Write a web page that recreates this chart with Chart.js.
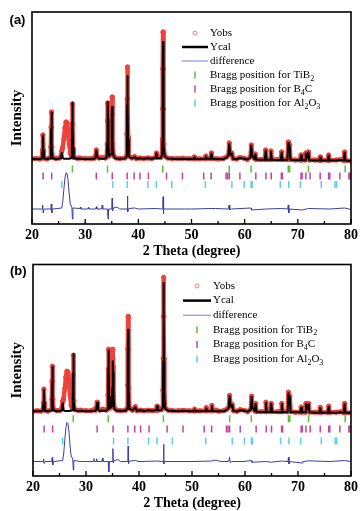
<!DOCTYPE html>
<html>
<head>
<meta charset="utf-8">
<script src="https://cdn.jsdelivr.net/npm/chart.js@4.4.1/dist/chart.umd.min.js"></script>
<style>
  body { margin: 0; background: #fff; }
  #wrapA { position: absolute; left: 0; top: 0; width: 361px; height: 259px; }
  #wrapB { position: absolute; left: 0; top: 259px; width: 361px; height: 252px; }
</style>
</head>
<body>
<div id="wrapA"><canvas id="chartA"></canvas></div>
<div id="wrapB"><canvas id="chartB"></canvas></div>
<script>
// 2 theta grid shared by both scans
const theta = [
  20.0, 20.8, 21.5,
  21.85, 21.97, 22.05, 22.13, 22.25,
  22.8,
  23.45, 23.55, 23.6, 23.65, 23.7, 23.75, 23.88,
  24.5, 25.2,
  25.45, 25.6, 25.75, 26.0, 26.2, 26.4, 26.6, 26.8, 27.0, 27.2, 27.4,
  27.5, 27.55, 27.6, 27.65, 27.72, 27.85,
  28.5, 29.0, 30.0, 31.0, 31.5, 31.8,
  31.95, 32.1, 32.25, 32.6, 33.2, 33.8,
  34.05, 34.15, 34.2, 34.25, 34.3, 34.38, 34.5,
  34.9, 34.97, 35.02, 35.07, 35.12, 35.2, 35.35,
  35.8, 36.5, 37.5,
  37.75, 37.85, 37.9, 37.95, 38.0, 38.07, 38.2,
  38.8, 39.3, 39.6, 40.3, 41.0, 41.8, 42.5,
  43.25, 43.4, 43.55, 44.2,
  44.45, 44.52, 44.57, 44.61, 44.65, 44.69, 44.73, 44.8, 44.95,
  45.5, 46.3, 47.5, 48.3, 49.5,
  50.35, 50.5, 50.65, 51.5,
  52.55, 52.7, 52.85, 53.6, 53.75, 53.9,
  54.5, 55.0, 56.0, 56.6,
  56.95, 57.1, 57.25, 57.45, 57.6, 57.8,
  58.5, 59.1, 59.9, 60.5,
  61.1, 61.25, 61.4, 61.85, 62.0, 62.15,
  63.0, 63.8, 63.95, 64.1, 64.8, 64.95, 65.1,
  66.2, 66.8, 66.95, 67.1, 67.9,
  68.05, 68.2, 68.33, 68.45, 68.6,
  69.5, 70.45, 70.6, 70.75,
  71.35, 71.5, 71.75, 72.0, 72.15,
  73.2, 74.05, 74.2, 74.35,
  75.65, 75.8, 75.95, 77.2, 78.1,
  78.65, 78.8, 78.95, 80.0
];

// panel (a)
const obsA = [
  0, 5, 0,
  10, 90, 240, 90, 10,
  0,
  15, 120, 320, 470, 320, 120, 15,
  5, 10,
  30, 80, 110, 200, 310, 370, 360, 280, 150, 60, 30,
  120, 350, 550, 350, 100, 15,
  8, 10, 5, 5, 8, 10,
  30, 90, 30, 10, 15, 10,
  20, 150, 380, 560, 380, 120, 30,
  60, 300, 520, 620, 450, 150, 30,
  10, 5, 10,
  30, 250, 600, 920, 600, 220, 30,
  10, 25, 5, 10, 5, 10, 5,
  15, 60, 15, 15,
  40, 200, 500, 900, 1270, 900, 500, 150, 30,
  10, 5, 5, 8, 3,
  3, 20, 3, 3,
  5, 30, 5, 5, 60, 5,
  3, 0, 5, 20,
  40, 160, 60, 45, 60, 5,
  0, 15, 8, -5,
  20, 140, 40, 5, 50, -5,
  -5, -5, 90, -5, -5, 80, -5,
  -5, -5, 70, -5, -5,
  -5, 170, 120, 140, -5,
  -10, -10, 40, -10,
  -10, 60, 20, 70, -10,
  -10, -12, 20, -12,
  -12, 40, -12, -10, -5,
  -15, 70, -15, -20
];
const calcA = [
  0, 0, 0,
  5, 80, 235, 80, 5,
  0,
  8, 110, 300, 465, 300, 110, 8,
  0, 5,
  10, 60, 10, 3, 2, 2, 2, 2, 3, 5, 10,
  130, 370, 565, 370, 110, 10,
  2, 3, 0, 0, 2, 3,
  20, 85, 20, 5, 3, 5,
  20, 160, 400, 570, 400, 130, 30,
  50, 250, 450, 520, 400, 130, 25,
  5, 3, 5,
  25, 220, 540, 830, 540, 200, 25,
  5, 20, 3, 8, 2, 8, 3,
  10, 58, 10, 10,
  35, 180, 450, 820, 1170, 820, 450, 130, 25,
  5, 3, 0, 3, 0,
  0, 15, 0, 0,
  2, 25, 2, 2, 55, 2,
  0, 0, -2, 15,
  35, 150, 55, 40, 55, 2,
  -3, 10, 3, -5,
  15, 135, 35, 0, 45, -5,
  -8, -8, 85, -8, -8, 75, -8,
  -10, -10, 65, -10, -8,
  -8, 160, 110, 135, -8,
  -12, -12, 35, -12,
  -12, 55, 15, 65, -12,
  -15, -15, 15, -15,
  -15, 35, -15, -15, -10,
  -15, 65, -15, -20
];
const diffThetaA = [
  20.0, 21.9, 22.0, 22.1, 22.3, 23.55, 23.62, 23.72, 23.85,
  25.6, 25.8, 26.0, 26.2, 26.4, 26.6, 26.8, 27.0, 27.2, 27.5, 27.6, 27.7,
  29.0, 29.1, 29.2, 30.5, 30.6, 30.7, 32.0, 32.1, 32.2, 33.1, 33.2, 33.3,
  34.2, 34.3, 34.4, 35.0, 35.07, 35.15, 35.3, 36.0, 36.5,
  37.9, 37.95, 38.02, 38.2, 39.3, 40.0, 43.4, 44.6, 44.65, 44.7, 44.8,
  50.0, 53.7, 54.5, 56.9, 57.1, 57.2, 57.5,
  61.2, 61.3, 64.0, 66.9, 68.1, 68.2, 68.3, 68.4,
  70.8, 72.0, 76.0, 78.8, 80.0
];
const diffA = [
  -500, -500, -460, -540, -500, -500, -450, -540, -500,
  -490, -420, -300, -190, -137, -145, -220, -350, -450, -480, -600, -490,
  -495, -480, -500, -500, -485, -500, -500, -477, -500, -500, -460, -500,
  -500, -600, -500, -500, -393, -520, -490, -480, -500,
  -500, -370, -530, -495, -490, -500, -495, -500, -377, -550, -500,
  -500, -495, -495, -500, -460, -510, -500,
  -490, -510, -500, -495, -500, -460, -540, -500,
  -510, -495, -500, -490, -505
];

// panel (b)
const obsB = [
  0, 5, 0,
  10, 85, 220, 85, 10,
  0,
  15, 115, 300, 450, 300, 115, 15,
  5, 10,
  30, 100, 120, 220, 340, 400, 390, 300, 160, 60, 30,
  120, 360, 560, 360, 100, 15,
  8, 10, 5, 5, 15, 10,
  30, 90, 30, 10, 20, 10,
  20, 160, 420, 620, 420, 130, 30,
  60, 300, 520, 620, 450, 150, 30,
  10, 5, 10,
  30, 260, 620, 950, 620, 230, 30,
  10, 45, 5, 10, 5, 10, 5,
  10, 50, 10, 15,
  40, 210, 530, 950, 1340, 950, 530, 160, 30,
  10, 5, 5, 8, 3,
  3, 20, 3, 3,
  5, 35, 5, 5, 57, 5,
  10, 0, 5, 20,
  40, 157, 70, 50, 67, 5,
  0, 15, 8, -5,
  20, 150, 45, 5, 77, -5,
  -5, -5, 90, -5, -5, 77, -5,
  -5, -5, 77, -5, -5,
  -5, 190, 130, 150, -5,
  -10, -10, 40, -10,
  -10, 77, 25, 77, -10,
  -10, -12, 37, -12,
  -12, 50, -12, -10, -5,
  -15, 77, -15, -16
];
const calcB = [
  0, 0, 0,
  5, 80, 215, 80, 5,
  0,
  8, 105, 290, 445, 290, 105, 8,
  0, 5,
  10, 80, 10, 3, 2, 2, 2, 2, 3, 5, 10,
  130, 380, 575, 380, 110, 10,
  2, 3, 0, 0, 5, 3,
  20, 85, 20, 5, 3, 5,
  20, 170, 430, 610, 430, 140, 30,
  50, 240, 430, 500, 390, 130, 25,
  5, 3, 5,
  25, 220, 530, 817, 530, 200, 25,
  5, 40, 3, 8, 2, 8, 3,
  8, 48, 8, 10,
  35, 200, 500, 900, 1287, 900, 500, 150, 25,
  5, 3, 0, 3, 0,
  0, 15, 0, 0,
  2, 30, 2, 2, 52, 2,
  0, 0, -2, 15,
  35, 150, 65, 45, 62, 2,
  -3, 10, 3, -5,
  15, 145, 40, 0, 72, -5,
  -8, -8, 85, -8, -8, 75, -8,
  -10, -10, 72, -10, -8,
  -8, 180, 120, 145, -8,
  -12, -12, 35, -12,
  -12, 72, 20, 72, -12,
  -15, -15, 32, -15,
  -15, 45, -15, -15, -10,
  -15, 72, -15, -16
];
const diffThetaB = [
  20.0, 21.9, 22.0, 22.1, 22.3, 23.55, 23.62, 23.72, 23.85,
  25.6, 25.8, 26.0, 26.2, 26.4, 26.6, 26.8, 27.0, 27.2, 27.5, 27.6, 27.7,
  29.0, 31.4, 31.5, 31.6, 31.9, 32.0, 32.1, 33.0, 33.1, 33.2,
  34.2, 34.3, 34.4, 35.0, 35.07, 35.15, 35.3, 36.0, 36.5,
  37.9, 37.95, 38.02, 38.2, 39.3, 40.0, 43.4, 44.6, 44.65, 44.7, 44.8,
  50.0, 53.7, 54.2, 54.8, 55.5, 56.9, 57.1, 57.2, 57.5,
  59.8, 61.2, 61.3, 64.0, 65.0, 66.9, 68.1, 68.2, 68.3, 68.4,
  70.8, 70.9, 72.0, 76.0, 78.8, 80.0
];
const diffB = [
  -505, -505, -480, -525, -505, -505, -465, -540, -505,
  -495, -420, -290, -170, -113, -125, -210, -350, -450, -480, -590, -495,
  -505, -505, -475, -505, -505, -478, -505, -505, -470, -505,
  -505, -610, -505, -505, -376, -520, -495, -485, -505,
  -505, -350, -525, -500, -495, -505, -500, -505, -333, -530, -505,
  -505, -500, -492, -495, -505, -505, -462, -515, -505,
  -505, -495, -512, -505, -512, -500, -505, -463, -530, -505,
  -520, -505, -498, -505, -495, -505
];

// Bragg reflection positions (same phases in both samples)
const braggTiB2 = [27.6, 34.2, 44.6, 57.1, 61.2, 68.2, 68.45, 72.0, 78.9];
const braggB4C = [22.1, 23.7, 32.1, 35.1, 37.9, 39.2, 40.3, 41.9, 45.3, 48.3, 52.3, 53.7,
  56.5, 56.8, 57.1, 59.1, 62.1, 64.0, 65.0, 66.9, 67.1, 70.6, 70.8, 71.5, 72.3,
  74.2, 75.8, 76.0, 77.9, 79.6, 79.8];
const braggAl2O3 = [25.6, 35.2, 37.9, 41.8, 43.4, 46.3, 52.6, 57.6, 59.9, 61.2, 61.4,
  66.7, 68.3, 70.5, 74.4, 77.0, 77.3];

const xTicks = [20, 30, 40, 50, 60, 70, 80];
const legendLabels = ['Yobs', 'Ycal', 'difference', 'Bragg position for TiB_2',
  'Bragg position for B_4C', 'Bragg position for Al_2O_3'];

const serif = '"Liberation Serif", "Times New Roman", serif';

function pairs(xs, ys) {
  return xs.map((x, i) => ({ x: x, y: ys[i] }));
}
function level(xs, y) {
  return xs.map(x => ({ x: x, y: y }));
}

// text with "_n" subscripts
function drawRich(ctx, text, x, y, size) {
  text.split(/(_\d)/).forEach(part => {
    if (!part) return;
    const sub = part[0] === '_';
    const s = sub ? part.slice(1) : part;
    ctx.font = (sub ? Math.round(size * 0.7) : size) + 'px ' + serif;
    ctx.fillText(s, x, sub ? y + size * 0.32 : y);
    x += ctx.measureText(s).width;
  });
}

const framePlugin = {
  id: 'frame',
  afterDatasetsDraw(chart) {
    const { ctx, chartArea: a } = chart;
    const x = chart.scales.x;
    ctx.save();
    ctx.strokeStyle = '#000';
    ctx.lineWidth = 1.6;
    ctx.strokeRect(a.left, a.top, a.right - a.left, a.bottom - a.top);
    ctx.lineWidth = 1.3;
    for (let v = x.min; v <= x.max; v += 5) {
      const px = x.getPixelForValue(v);
      const len = v % 10 === 0 ? 5 : 3;
      ctx.beginPath();
      ctx.moveTo(px, a.bottom);
      ctx.lineTo(px, a.bottom - len);
      ctx.stroke();
    }
    ctx.restore();
  }
};

const decorPlugin = {
  id: 'decor',
  afterDraw(chart, args, o) {
    const ctx = chart.ctx;
    const ds = chart.data.datasets;
    ctx.save();
    ctx.fillStyle = '#000';
    ctx.font = 'bold 13px "Liberation Sans", Arial, sans-serif';
    ctx.textAlign = 'center';
    ctx.textBaseline = 'middle';
    ctx.fillText(o.letter, o.letterX, o.letterY);

    ctx.textAlign = 'left';
    legendLabels.forEach((label, i) => {
      const y = o.top + i * o.step;
      const d = ds[i];
      ctx.beginPath();
      if (i === 0) {
        ctx.strokeStyle = '#f07a7a';
        ctx.lineWidth = 1;
        ctx.arc(o.symX, y, 2, 0, Math.PI * 2);
      } else if (i === 1) {
        ctx.strokeStyle = '#000';
        ctx.lineWidth = 2.5;
        ctx.moveTo(o.lineX0, y);
        ctx.lineTo(o.lineX1, y);
      } else if (i === 2) {
        ctx.strokeStyle = '#7a7ad8';
        ctx.lineWidth = 1;
        ctx.moveTo(o.lineX0, y);
        ctx.lineTo(o.lineX1, y);
      } else {
        ctx.strokeStyle = d.pointBorderColor;
        ctx.lineWidth = 1.5;
        ctx.moveTo(o.symX, y - 3.5);
        ctx.lineTo(o.symX, y + 3.5);
      }
      ctx.stroke();
      ctx.fillStyle = '#000';
      drawRich(ctx, label, o.textX, y, 11);
    });
    ctx.restore();
  }
};

function makeChart(id, p) {
  const tick = (xs, y, color) => ({
    label: 'bragg',
    data: level(xs, y),
    showLine: false,
    pointStyle: 'line',
    pointRotation: 90,
    pointRadius: 3.5,
    pointBorderWidth: 1.5,
    pointBorderColor: color,
    borderColor: color,
    order: 4
  });
  return new Chart(document.getElementById(id), {
    type: 'line',
    data: {
      datasets: [
        {
          label: 'Yobs',
          data: pairs(theta, p.obs),
          borderColor: 'rgba(232, 50, 44, 0.9)',
          borderWidth: 4.5,
          borderJoinStyle: 'round',
          borderCapStyle: 'round',
          pointRadius: 2.2,
          pointStyle: 'circle',
          pointBorderColor: '#ee3a33',
          pointBackgroundColor: 'rgba(255,255,255,0)',
          pointBorderWidth: 1,
          order: 2
        },
        {
          label: 'Ycal',
          data: pairs(theta, p.calc),
          borderColor: '#000',
          borderWidth: 2,
          borderJoinStyle: 'round',
          pointRadius: 0,
          order: 1
        },
        {
          label: 'difference',
          data: pairs(p.diffTheta, p.diff),
          borderColor: '#3d3da6',
          borderWidth: 1,
          borderJoinStyle: 'round',
          pointRadius: 0,
          order: 3
        },
        tick(braggTiB2, p.rows[0], '#5cbf3a'),
        tick(braggB4C, p.rows[1], '#c2449f'),
        tick(braggAl2O3, p.rows[2], '#5ccfe0')
      ]
    },
    options: {
      responsive: true,
      maintainAspectRatio: false,
      animation: false,
      events: [],
      layout: { padding: { top: p.padTop, right: p.padRight, bottom: 0, left: 0 } },
      plugins: {
        legend: { display: false },
        tooltip: { enabled: false },
        decor: p.decor
      },
      scales: {
        x: {
          type: 'linear',
          min: 20,
          max: 80,
          afterBuildTicks: s => { s.ticks = xTicks.map(v => ({ value: v })); },
          afterFit: s => { s.height = 35; },
          grid: { display: false, drawTicks: false },
          border: { display: false },
          ticks: {
            color: '#000',
            padding: 3,
            maxRotation: 0,
            font: { family: serif, size: 14, weight: 'bold' }
          },
          title: {
            display: true,
            text: '2 Theta (degree)',
            color: '#000',
            padding: { top: 0, bottom: -1 },
            font: { family: serif, size: 14, weight: 'bold' }
          }
        },
        y: {
          min: -650,
          max: 1470,
          afterFit: s => { s.width = p.axisLeft; },
          grid: { display: false, drawTicks: false },
          border: { display: false },
          ticks: { display: false },
          title: {
            display: true,
            text: 'Intensity',
            color: '#000',
            padding: { top: 8, bottom: 0 },
            font: { family: serif, size: 15, weight: 'bold' }
          }
        }
      }
    },
    plugins: [framePlugin, decorPlugin]
  });
}

makeChart('chartA', {
  obs: obsA, calc: calcA, diffTheta: diffThetaA, diff: diffA,
  rows: [-100, -170, -255],
  padTop: 12, padRight: 8, axisLeft: 32,
  decor: { letter: '(a)', letterX: 17.5, letterY: 20, top: 33, step: 14,
    symX: 195, lineX0: 182, lineX1: 208, textX: 210 }
});
makeChart('chartB', {
  obs: obsB, calc: calcB, diffTheta: diffThetaB, diff: diffB,
  rows: [-76, -180, -298],
  padTop: 5, padRight: 7, axisLeft: 33,
  decor: { letter: '(b)', letterX: 18.3, letterY: 12, top: 27, step: 14.6,
    symX: 197, lineX0: 183, lineX1: 211, textX: 213 }
});
</script>
</body>
</html>
